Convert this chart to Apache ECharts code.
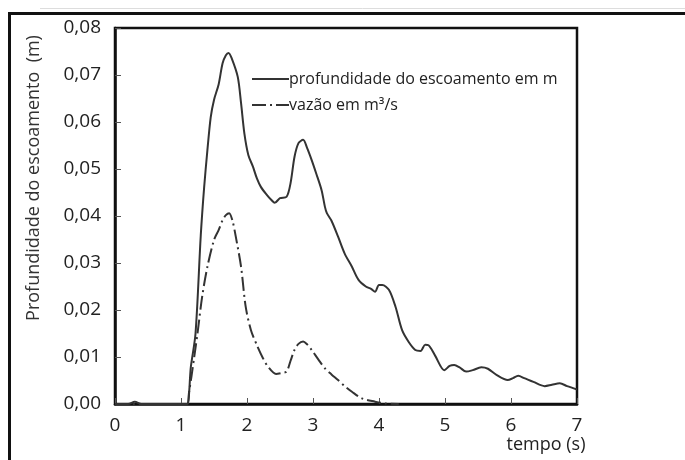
<!DOCTYPE html>
<html>
<head>
<meta charset="utf-8">
<script src="https://cdn.jsdelivr.net/npm/echarts@6/dist/echarts.min.js"></script>
<style>html,body{margin:0;padding:0;background:#fff;}#c{width:685px;height:460px;}</style>
</head>
<body>
<div id="c"></div>
<script>
var depthT = [0,0.2,0.3,0.4,0.8,1.0,1.09,1.15,1.22,1.30,1.35,1.40,1.45,1.50,1.57,1.63,1.68,1.72,1.77,1.86,1.91,1.96,2.02,2.09,2.15,2.21,2.30,2.37,2.42,2.50,2.60,2.66,2.72,2.78,2.85,2.91,2.98,3.05,3.13,3.18,3.21,3.28,3.38,3.48,3.59,3.69,3.80,3.88,3.94,4.00,4.05,4.15,4.25,4.35,4.45,4.55,4.63,4.70,4.75,4.85,4.99,5.07,5.14,5.22,5.32,5.42,5.55,5.65,5.78,5.95,6.03,6.11,6.20,6.34,6.51,6.62,6.74,6.85,7.0];
var depthV = [0,0,0.0005,0,0,0,0,0.008,0.015,0.036,0.046,0.054,0.061,0.0647,0.068,0.0725,0.0742,0.0747,0.0735,0.0696,0.064,0.0576,0.053,0.0505,0.048,0.0462,0.0445,0.0434,0.0428,0.0438,0.0441,0.047,0.0526,0.0555,0.0562,0.0545,0.0519,0.049,0.0455,0.042,0.0406,0.039,0.0356,0.032,0.0292,0.0264,0.025,0.0245,0.0239,0.0253,0.0253,0.0243,0.0207,0.0157,0.0132,0.0115,0.0113,0.0126,0.0125,0.0103,0.0072,0.0081,0.0083,0.0078,0.0069,0.0072,0.0078,0.0075,0.0062,0.0051,0.0055,0.006,0.0055,0.0047,0.0038,0.0041,0.0044,0.0038,0.0031];
var flowT = [0,1.0,1.10,1.12,1.16,1.20,1.25,1.32,1.40,1.50,1.57,1.63,1.68,1.73,1.78,1.83,1.91,1.98,2.06,2.16,2.24,2.32,2.44,2.52,2.60,2.66,2.72,2.78,2.85,2.91,2.98,3.08,3.18,3.28,3.38,3.48,3.59,3.74,3.94,4.1,4.3];
var flowV = [0,0,0,0.0023,0.006,0.010,0.015,0.0228,0.0292,0.0349,0.037,0.0391,0.0402,0.0406,0.039,0.0356,0.0292,0.0207,0.0157,0.0122,0.0098,0.0079,0.0064,0.0066,0.0069,0.0092,0.0115,0.0128,0.0133,0.0127,0.0115,0.0095,0.0076,0.0063,0.0051,0.0038,0.0026,0.0012,0.0005,0.0001,0];
var seriesNames = ['profundidade do escoamento em m', 'vazão em m³/s'];
var yAxisTitle = 'Profundidade do escoamento  (m)';
var xAxisTitle = 'tempo (s)';

function pairs(t, v){ return t.map(function(x,i){ return [x, v[i]]; }); }

var FONT = 'Open Sans';
var chart = echarts.init(document.getElementById('c'), null, {renderer:'canvas'});
chart.setOption({
  animation: false,
  backgroundColor: '#fff',
  grid: {left:115, right:108, top:28, bottom:56, show:true, borderColor:'#111', borderWidth:2.5, backgroundColor:'transparent'},
  legend: {
    left: 246, top: 66, orient: 'vertical', itemWidth: 37, itemHeight: 14, itemGap: 10,
    itemStyle: {opacity: 0},
    textStyle: {fontFamily: FONT, fontSize: 16, color: '#222', padding:[0,0,0,-5]},
    data: seriesNames
  },
  xAxis: {
    type: 'value', min: 0, max: 7, interval: 1,
    axisLine: {show:true, lineStyle:{color:'#111', width:2.5}},
    axisTick: {show:true, inside:true, length:6, lineStyle:{color:'#555', width:1}},
    axisLabel: {fontFamily: FONT, fontSize: 19, color:'#222', margin: 12},
    splitLine: {show:false}
  },
  yAxis: {
    type: 'value', min: 0, max: 0.08, interval: 0.01,
    axisLine: {show:true, lineStyle:{color:'#111', width:2.5}},
    axisTick: {show:true, inside:true, length:6, lineStyle:{color:'#555', width:1}},
    axisLabel: {fontFamily: FONT, fontSize: 19, color:'#222', margin: 14,
      formatter: function(v){ return v.toFixed(2).replace('.', ','); }},
    splitLine: {show:false}
  },
  graphic: [
    {type:'line', shape:{x1:8, y1:13.5, x2:685, y2:13.5}, style:{stroke:'#111', lineWidth:3}},
    {type:'line', shape:{x1:9.5, y1:12, x2:9.5, y2:460}, style:{stroke:'#111', lineWidth:3}},
    {type:'line', shape:{x1:40, y1:8.5, x2:685, y2:8.5}, style:{stroke:'#ddd', lineWidth:1}},
    {type:'text', x:34, y:178, rotation:Math.PI/2,
      style:{text:yAxisTitle, font:'18px "Open Sans"', fill:'#333', align:'center', verticalAlign:'middle'}},
    {type:'text', x:546, y:445,
      style:{text:xAxisTitle, font:'18px "Open Sans"', fill:'#222', align:'center', verticalAlign:'middle'}}
  ],
  series: [
    {name: seriesNames[0], type:'line', data: pairs(depthT, depthV), symbol:'none', smooth:0.3,
      lineStyle:{color:'#333', width:2}, itemStyle:{color:'#333'}},
    {name: seriesNames[1], type:'line', data: pairs(flowT, flowV), symbol:'none', smooth:0.3,
      lineStyle:{color:'#333', width:2, type:[14,4,2,4]}, itemStyle:{color:'#333'}}
  ]
});
</script>
</body>
</html>
